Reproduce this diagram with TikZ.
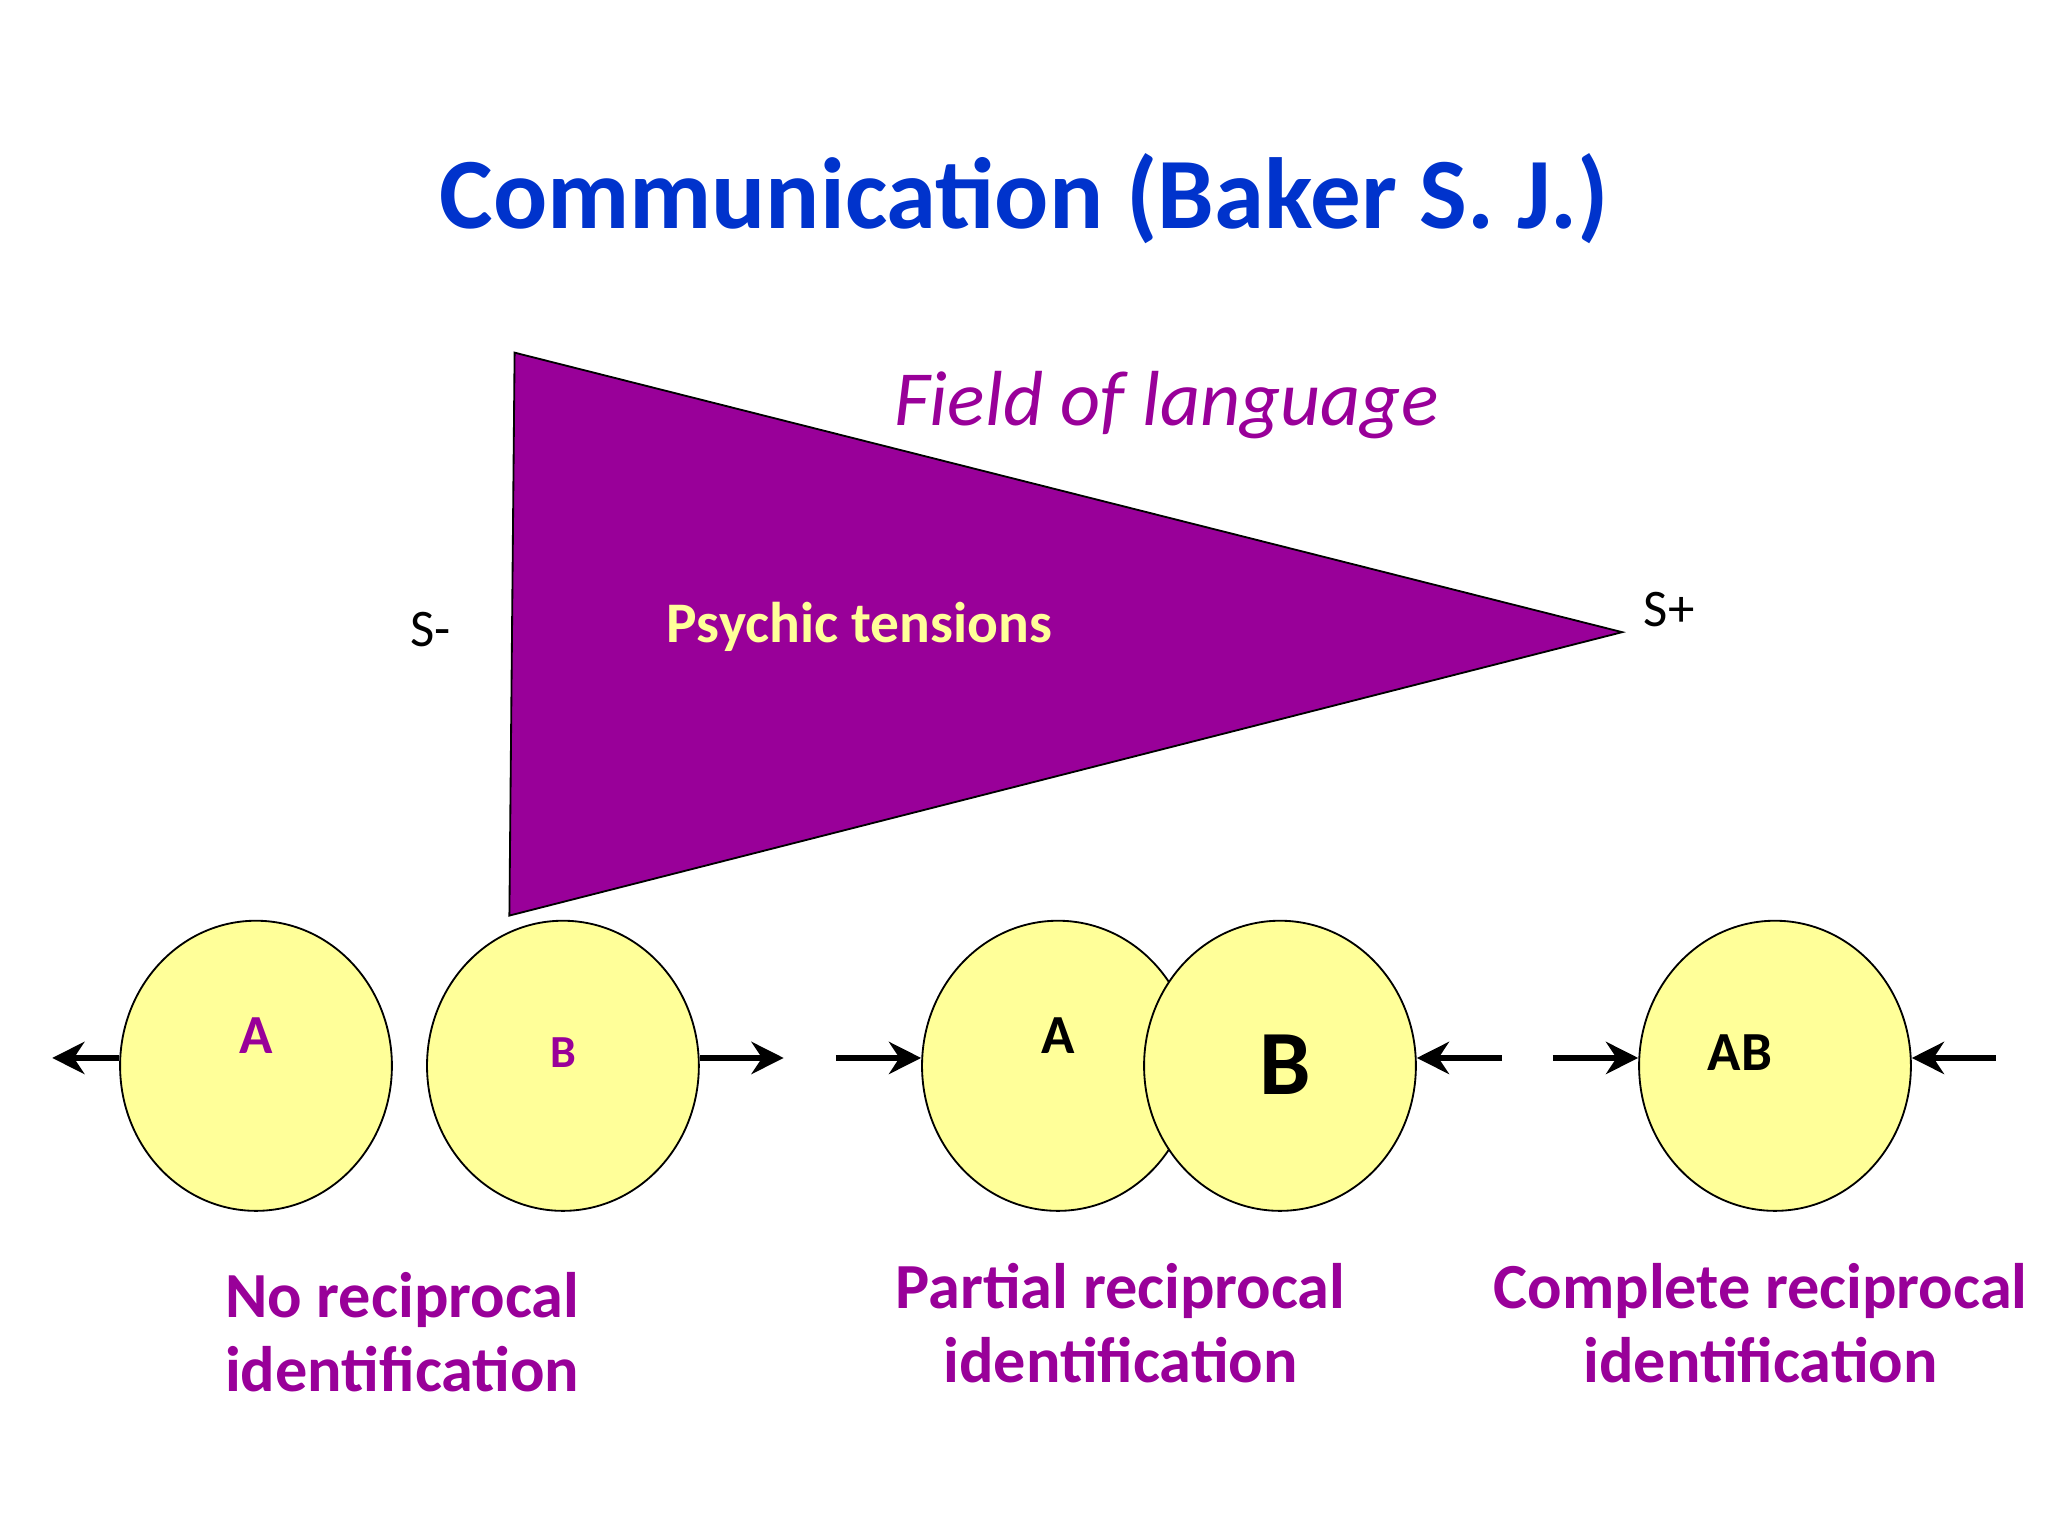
\documentclass[tikz,border=0pt]{standalone}
\usepackage{fontspec}
\setmainfont{Carlito}
\usetikzlibrary{shapes.geometric,arrows.meta}
\definecolor{violet}{HTML}{990099}
\definecolor{pale}{HTML}{FFFF99}
\definecolor{titleblue}{HTML}{0033CC}
\tikzset{
  cell/.style={ellipse, draw, fill=pale, minimum width=2.08cm, minimum height=2.22cm},
  push/.style={line width=1.4pt, -{Stealth[length=7pt,width=7pt]}},
  caption/.style={align=center, font=\fontsize{14}{16}\selectfont\bfseries, text=violet}
}
\begin{document}
\begin{tikzpicture}[x=0.01cm, y=-0.01cm]
  \useasboundingbox (0,0) rectangle (1568,1176);
  \node (title) at (784,152) {\fontsize{22}{26}\selectfont\bfseries\color{titleblue}Communication (Baker S. J.)};
  % the field
  \coordinate (top) at (394,270);
  \coordinate (tip) at (1242,484);
  \coordinate (foot) at (390,701);
  \draw[fill=violet] (top) -- (tip) -- (foot) -- cycle;
  \node (field) at (893,310) {\fontsize{17}{20}\selectfont\itshape\color{violet}Field of language};
  \node (tension) at (658,480) {\fontsize{12.5}{15}\selectfont\bfseries\color{pale}Psychic tensions};
  \node (sminus) at (330,482) {\fontsize{11.5}{14}\selectfont S-};
  \node (splus) at (1278,467) {\fontsize{11.5}{14}\selectfont S+};
  % no identification
  \node[cell] (a1) at (196,816) {};
  \node[cell] (b1) at (431,816) {};
  \node at (196,793) {\bfseries\large\color{violet}A};
  \node at (431,806) {\bfseries\color{violet}B};
  \coordinate (l1) at (40,810);
  \coordinate (r1) at (600,810);
  \draw[push] (a1.west |- l1) -- (l1);
  \draw[push] (b1.east |- r1) -- (r1);
  \node[caption] (c1) at (308,1020) {No reciprocal\\identification};
  % partial
  \node[cell] (a2) at (810,816) {};
  \node[cell] (b2) at (980,816) {};
  \node at (810,793) {\bfseries\large A};
  \node at (984,815) {\fontsize{20}{24}\selectfont\bfseries B};
  \coordinate (l2) at (640,810);
  \coordinate (r2) at (1150,810);
  \draw[push] (l2) -- (a2.west |- l2);
  \draw[push] (r2) -- (b2.east |- r2);
  \node[caption] (c2) at (858,1013) {Partial reciprocal\\identification};
  % complete
  \node[cell] (ab) at (1359,816) {};
  \node at (1332,806) {\bfseries\large AB};
  \coordinate (l3) at (1189,810);
  \coordinate (r3) at (1528,810);
  \draw[push] (l3) -- (ab.west |- l3);
  \draw[push] (r3) -- (ab.east |- r3);
  \node[caption] (c3) at (1348,1013) {Complete reciprocal\\identification};
\end{tikzpicture}
\end{document}
